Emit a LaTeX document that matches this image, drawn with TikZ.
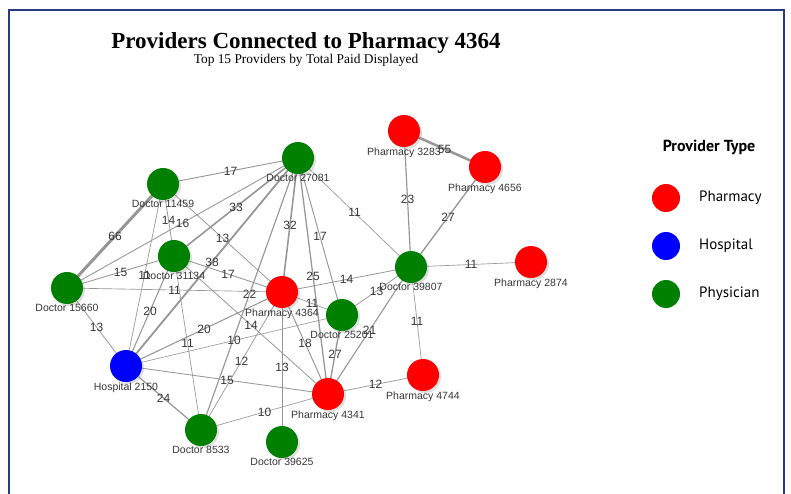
\documentclass[tikz,border=0pt]{standalone}
\usepackage{fontspec}
\setmainfont{Liberation Sans}
\newfontfamily\titlefont{Liberation Serif}
\newfontfamily\legfont{PT Sans}
\usetikzlibrary{shadows}
\pgfdeclarelayer{bottom}
\pgfdeclarelayer{background}
\pgfsetlayers{bottom,background,main}
\definecolor{pred}{RGB}{255,0,0}
\definecolor{hblue}{RGB}{0,0,255}
\definecolor{dgreen}{RGB}{0,128,0}
\definecolor{edgegray}{RGB}{150,150,150}
\definecolor{txtgray}{RGB}{55,55,55}
\definecolor{framebl}{RGB}{40,60,130}
\newcommand\lnk[3]{\draw[edgeln, line width={0.2pt+#3*0.042pt}] (#1.center) -- node[elbl]{#3} (#2.center);}
\newcommand\vtx[5]{\node[#2, label={[nlbl]below:#5}] (#1) at (#3,#4) {};}
\begin{document}
\begin{tikzpicture}[x=1pt,y=-1pt,
  vtx/.style={circle, minimum size=32pt, inner sep=0pt, draw=none, label distance=6pt,
    drop shadow={opacity=0.25, shadow xshift=2pt, shadow yshift=-2pt}},
  phar/.style={vtx, fill=pred},
  hosp/.style={vtx, fill=hblue},
  phys/.style={vtx, fill=dgreen},
  nlbl/.style={font=\fontsize{10.5}{11}\selectfont, text=txtgray, inner sep=0pt},
  edgeln/.style={draw=edgegray},
  elbl/.style={font=\fontsize{12}{12}\selectfont, text=txtgray, inner sep=0.5pt, midway},
  legc/.style={circle, minimum size=28pt, inner sep=0pt, draw=none},
  legt/.style={font=\legfont\fontsize{15}{15}\selectfont, text=black, anchor=west, inner sep=0pt}]
\useasboundingbox (0,0) rectangle (791,494);
\begin{pgfonlayer}{bottom}
\fill[white] (0,0) rectangle (791,494);
\end{pgfonlayer}
\draw[framebl, line width=1.5pt] (9,494) -- (9,10) -- (784,10) -- (784,494);

\node[font=\titlefont\bfseries\fontsize{23}{23}\selectfont] (title) at (306,43) {Providers Connected to Pharmacy 4364};
\node[font=\titlefont\fontsize{13.4}{14}\selectfont] (subtitle) at (306,60) {Top 15 Providers by Total Paid Displayed};

\vtx{p3283}{phar}{404}{131}{Pharmacy 3283}
\vtx{p4656}{phar}{485}{167}{Pharmacy 4656}
\vtx{d27081}{phys}{298}{158}{Doctor 27081}
\vtx{d11459}{phys}{163}{184}{Doctor 11459}
\vtx{d31134}{phys}{174}{256}{Doctor 31134}
\vtx{d15660}{phys}{67}{288}{Doctor 15660}
\vtx{d39807}{phys}{411}{267}{Doctor 39807}
\vtx{p2874}{phar}{531}{262}{Pharmacy 2874}
\vtx{p4364}{phar}{282}{292}{Pharmacy 4364}
\vtx{d25201}{phys}{342}{315}{Doctor 25201}
\vtx{h2150}{hosp}{126}{366}{Hospital 2150}
\vtx{p4341}{phar}{328}{394}{Pharmacy 4341}
\vtx{p4744}{phar}{423}{375}{Pharmacy 4744}
\vtx{d8533}{phys}{201}{430}{Doctor 8533}
\vtx{d39625}{phys}{282}{442}{Doctor 39625}

\begin{pgfonlayer}{background}
\lnk{p3283}{p4656}{55}
\lnk{p3283}{d39807}{23}
\lnk{p4656}{d39807}{27}
\lnk{d39807}{p2874}{11}
\lnk{d39807}{p4744}{11}
\lnk{d27081}{d11459}{17}
\lnk{d27081}{d39807}{11}
\lnk{d27081}{p4364}{32}
\lnk{d27081}{d25201}{17}
\lnk{d27081}{p4341}{25}
\lnk{d27081}{h2150}{38}
\lnk{d27081}{d31134}{33}
\lnk{d27081}{d15660}{16}
\lnk{d27081}{d8533}{22}
\lnk{d11459}{d15660}{66}
\lnk{d11459}{d31134}{14}
\lnk{d11459}{p4364}{13}
\lnk{d11459}{h2150}{11}
\lnk{d15660}{d31134}{15}
\lnk{d15660}{p4364}{11}
\lnk{d15660}{h2150}{13}
\lnk{d31134}{h2150}{20}
\lnk{d31134}{d8533}{11}
\lnk{d31134}{p4364}{17}
\lnk{d31134}{p4341}{14}
\lnk{h2150}{p4364}{20}
\lnk{h2150}{d25201}{10}
\lnk{h2150}{d8533}{24}
\lnk{h2150}{p4341}{15}
\lnk{p4364}{d8533}{12}
\lnk{p4364}{d39807}{14}
\lnk{p4364}{d25201}{11}
\lnk{p4364}{d39625}{13}
\lnk{p4364}{p4341}{18}
\lnk{d25201}{d39807}{13}
\lnk{d25201}{p4341}{27}
\lnk{d39807}{p4341}{21}
\lnk{d8533}{p4341}{10}
\lnk{p4341}{p4744}{12}
\end{pgfonlayer}

\node[font=\legfont\bfseries\fontsize{16}{16}\selectfont] (legtitle) at (709,147) {Provider Type};
\node[legc, fill=pred] (lgp) at (666,198) {};
\node[legt] (lgpt) at (699,198) {Pharmacy};
\node[legc, fill=hblue] (lgh) at (666,246) {};
\node[legt] (lght) at (699,246) {Hospital};
\node[legc, fill=dgreen] (lgd) at (666,294) {};
\node[legt] (lgdt) at (699,294) {Physician};
\end{tikzpicture}
\end{document}
